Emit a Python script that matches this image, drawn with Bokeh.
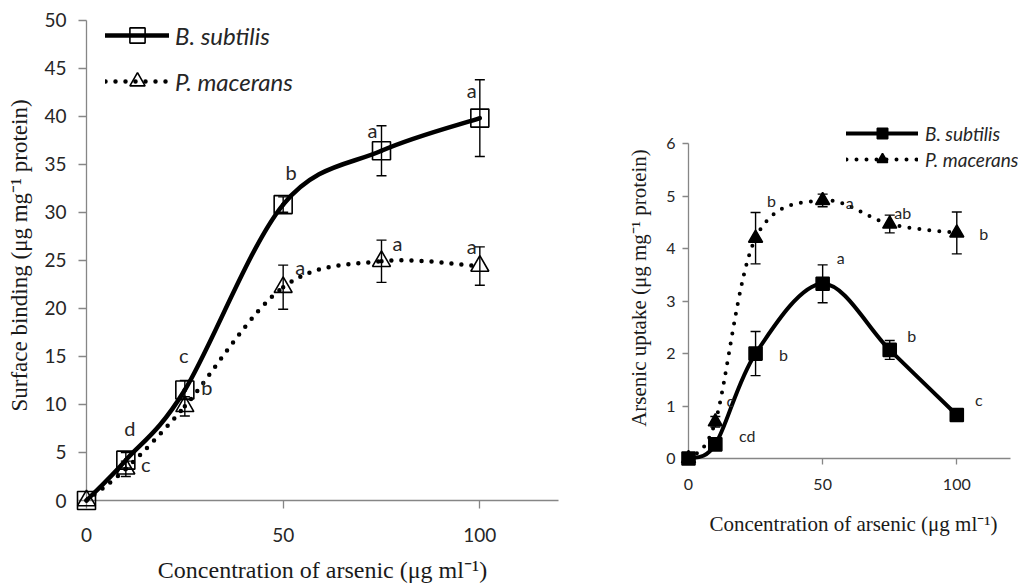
from bokeh.plotting import figure
from bokeh.layouts import row
from bokeh.models import (ColumnDataSource, Whisker, TeeHead, Legend, LegendItem,
                          FixedTicker, Range1d)
from bokeh.core.properties import value
from bokeh.embed import file_html
from bokeh.resources import INLINE

# ---------------- data ----------------
conc = [0, 10, 25, 50, 75, 100]

# Panel 1: surface binding (ug mg-1 protein)
bind_bs = [0, 4.2, 11.5, 30.8, 36.4, 39.8]
bind_bs_err = [0.3, 0.8, 1.0, 0.8, 2.6, 4.0]
bind_pm = [0, 3.3, 9.8, 22.2, 24.9, 24.4]
bind_pm_err = [0.3, 0.8, 1.0, 2.3, 2.2, 2.0]
bind_bs_letters = ["", "d", "c", "b", "a", "a"]
bind_pm_letters = ["", "c", "b", "a", "a", "a"]

# Panel 2: arsenic uptake (ug mg-1 protein)
up_bs = [0, 0.27, 2.0, 3.33, 2.07, 0.83]
up_bs_err = [0, 0.05, 0.42, 0.36, 0.18, 0.05]
up_pm = [0, 0.7, 4.2, 4.92, 4.47, 4.3]
up_pm_err = [0, 0.1, 0.49, 0.12, 0.17, 0.4]
up_bs_letters = ["", "cd", "b", "a", "b", "c"]
up_pm_letters = ["", "c", "b", "a", "ab", "b"]

series_names = ["B. subtilis", "P. macerans"]
x_ticks = [0, 50, 100]
y1_ticks = [0, 5, 10, 15, 20, 25, 30, 35, 40, 45, 50]
y2_ticks = [0, 1, 2, 3, 4, 5, 6]

# label placement (screen px offsets from the point)
bind_bs_dx = [0, 4, -1, 8, -9, -8]
bind_bs_dy = [0, -32, -35, -33, -21, -28]
bind_pm_dx = [0, 20, 22, 17, 16, -8]
bind_pm_dy = [0, -5, -19, -20, -18, -20]
up_bs_dx = [0, 32, 28, 18, 22, 22]
up_bs_dy = [0, -9, 1, -26, -14, -15]
up_pm_dx = [0, 15, 16, 27, 13, 27]
up_pm_dy = [0, -21, -38, 2, -11, 1]

AXIS_COLOR = "#868686"
TEXT_COLOR = "#262626"
SANS = "Lato"
SERIF = "Liberation Serif"


def bezier_source(xs, ys):
    n = len(xs)
    d = dict(x0=[], y0=[], x1=[], y1=[], cx0=[], cy0=[], cx1=[], cy1=[])
    for i in range(n - 1):
        a = max(i - 1, 0)
        b = min(i + 2, n - 1)
        d["x0"].append(xs[i]); d["y0"].append(ys[i])
        d["x1"].append(xs[i + 1]); d["y1"].append(ys[i + 1])
        d["cx0"].append(xs[i] + (xs[i + 1] - xs[a]) / 6)
        d["cy0"].append(ys[i] + (ys[i + 1] - ys[a]) / 6)
        d["cx1"].append(xs[i + 1] - (xs[b] - xs[i]) / 6)
        d["cy1"].append(ys[i + 1] - (ys[b] - ys[i]) / 6)
    return ColumnDataSource(d)


def style_axes(p, ytks, tick_font, tick_out, x_tick_standoff, y_tick_standoff,
               title_font, xlabel, ylabel, x_lab_standoff, y_lab_standoff, ybounds):
    p.xgrid.visible = False
    p.ygrid.visible = False
    p.outline_line_color = None
    p.background_fill_color = "white"
    for ax in (p.xaxis[0], p.yaxis[0]):
        ax.axis_line_color = AXIS_COLOR
        ax.axis_line_width = 1.3
        ax.major_tick_line_color = AXIS_COLOR
        ax.major_tick_line_width = 1.3
        ax.major_tick_out = tick_out
        ax.major_tick_in = 0
        ax.minor_tick_line_color = None
        ax.major_label_text_font = SANS
        ax.major_label_text_font_size = tick_font
        ax.major_label_text_color = TEXT_COLOR
        ax.axis_label_text_font = SERIF
        ax.axis_label_text_font_style = "normal"
        ax.axis_label_text_font_size = title_font
        ax.axis_label_text_color = "#1a1a1a"
    p.xaxis[0].major_label_standoff = x_tick_standoff
    p.yaxis[0].major_label_standoff = y_tick_standoff
    p.xaxis[0].ticker = FixedTicker(ticks=x_ticks)
    p.yaxis[0].ticker = FixedTicker(ticks=ytks)
    p.xaxis[0].axis_label = xlabel
    p.yaxis[0].axis_label = ylabel
    p.xaxis[0].axis_label_standoff = x_lab_standoff
    p.yaxis[0].axis_label_standoff = y_lab_standoff
    p.yaxis[0].bounds = ybounds
    p.xaxis[0].bounds = (0, 120)


def add_series(p, ys, errs, letters, dx, dy, marker, fill, msize, lw, dash,
               letter_font, head):
    src = ColumnDataSource(dict(x=conc, y=ys, up=[a + b for a, b in zip(ys, errs)],
                                lo=[a - b for a, b in zip(ys, errs)],
                                t=letters, dx=dx, dy=dy))
    bz = p.bezier(x0="x0", y0="y0", x1="x1", y1="y1", cx0="cx0", cy0="cy0",
                  cx1="cx1", cy1="cy1", source=bezier_source(conc, ys),
                  line_color="black", line_width=lw, line_dash=dash,
                  line_cap="round", level="overlay")
    w = Whisker(source=src, base="x", upper="up", lower="lo", dimension="height",
                line_color="black", line_width=1.4,
                upper_head=TeeHead(size=head, line_color="black", line_width=1.4),
                lower_head=TeeHead(size=head, line_color="black", line_width=1.4),
                level="overlay")
    p.add_layout(w)
    sc = p.scatter(x="x", y="y", source=src, marker=marker, size=msize,
                   fill_color=fill, fill_alpha=1 if fill else 0,
                   line_color="black", line_width=1.6, level="overlay")
    p.text(x="x", y="y", text="t", x_offset="dx", y_offset="dy", source=src,
           text_font=value(SANS), text_font_size=letter_font,
           text_color=TEXT_COLOR, text_align="center", text_baseline="middle",
           level="overlay")
    return bz, sc


# ---------------- panel 1 ----------------
p1 = figure(width=560, height=587, x_range=Range1d(0, 120), y_range=Range1d(0, 51),
            output_backend="svg", toolbar_location=None,
            min_border_left=86, min_border_right=2, min_border_top=10,
            min_border_bottom=87)
p1.frame_align = False
style_axes(p1, y1_ticks, "19px", 8, 19, 12, "24px",
           "Concentration of arsenic (\u03bcg ml\u207b\u00b9)",
           "Surface binding (\u03bcg mg\u207b\u00b9 protein)", 12, 9, (0, 50))
p1.yaxis[0].axis_label_text_font_size = "23px"

b1 = add_series(p1, bind_bs, bind_bs_err, bind_bs_letters, bind_bs_dx, bind_bs_dy,
                "square", None, 18, 4.5, "solid", "20px", 10)
b2 = add_series(p1, bind_pm, bind_pm_err, bind_pm_letters, bind_pm_dx, bind_pm_dy,
                "triangle", None, 18, 4.5, "0 10", "20px", 10)

leg1 = Legend(items=[LegendItem(label=series_names[0], renderers=list(b1)),
                     LegendItem(label=series_names[1], renderers=list(b2))],
              location=(19, 400), glyph_width=64, glyph_height=38,
              label_height=38, spacing=8, padding=0, margin=0,
              label_standoff=6, background_fill_alpha=0, border_line_alpha=0,
              label_text_font=SANS, label_text_font_style="italic",
              label_text_font_size="24px", label_text_color=TEXT_COLOR)
p1.add_layout(leg1)

# ---------------- panel 2 ----------------
p2 = figure(width=470, height=587, x_range=Range1d(0, 123), y_range=Range1d(0, 6.5),
            output_backend="svg", toolbar_location=None,
            min_border_left=128, min_border_right=12, min_border_top=117,
            min_border_bottom=129)
p2.frame_align = False
style_axes(p2, y2_ticks, "16px", 6, 14, 7, "21px",
           "Concentration of arsenic (\u03bcg ml\u207b\u00b9)",
           "Arsenic uptake (\u03bcg mg\u207b\u00b9 protein)", 19, 12, (0, 6))

r1 = add_series(p2, up_bs, up_bs_err, up_bs_letters, up_bs_dx, up_bs_dy,
                "square", "black", 13, 4, "solid", "16px", 10)
r2 = add_series(p2, up_pm, up_pm_err, up_pm_letters, up_pm_dx, up_pm_dy,
                "triangle", "black", 14, 4, "0 10", "16px", 10)

leg2 = Legend(items=[LegendItem(label=series_names[0], renderers=list(r1)),
                     LegendItem(label=series_names[1], renderers=list(r2))],
              location=(158, 286), glyph_width=72, glyph_height=26,
              label_height=26, spacing=0, padding=0, margin=0,
              label_standoff=7, background_fill_alpha=0, border_line_alpha=0,
              label_text_font=SANS, label_text_font_style="italic",
              label_text_font_size="19px", label_text_color=TEXT_COLOR)
p2.add_layout(leg2)

layout = row(p1, p2)
open("out.html", "w").write(file_html(layout, INLINE))
